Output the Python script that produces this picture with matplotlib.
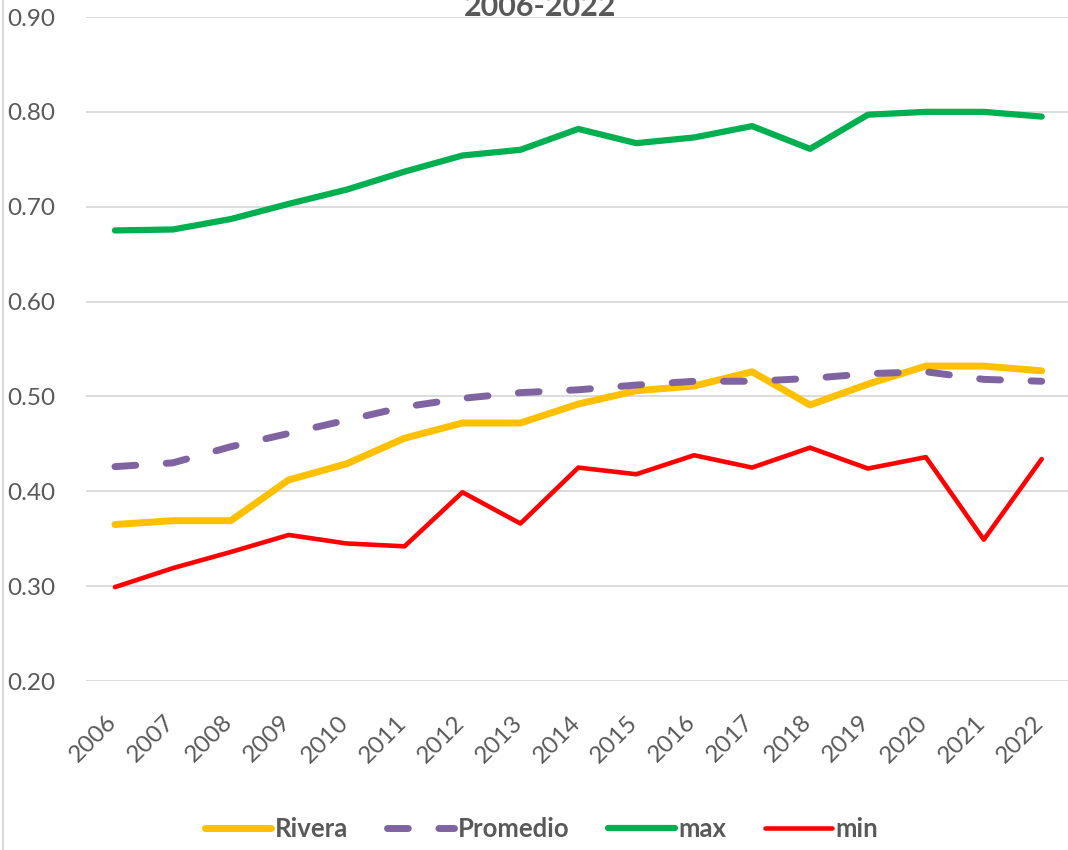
import matplotlib
matplotlib.use('Agg')
import matplotlib.pyplot as plt
from matplotlib.lines import Line2D
from matplotlib.transforms import ScaledTranslation

years = [str(y) for y in range(2006, 2023)]
rivera = [0.365, 0.369, 0.369, 0.412, 0.429, 0.456, 0.472, 0.472, 0.492,
          0.506, 0.511, 0.526, 0.491, 0.513, 0.532, 0.532, 0.527]
promedio = [0.426, 0.430, 0.447, 0.461, 0.475, 0.489, 0.498, 0.504, 0.507,
            0.512, 0.516, 0.516, 0.519, 0.524, 0.526, 0.518, 0.516]
maximo = [0.675, 0.676, 0.687, 0.703, 0.718, 0.737, 0.754, 0.760, 0.782,
          0.767, 0.773, 0.785, 0.761, 0.797, 0.800, 0.800, 0.795]
minimo = [0.299, 0.319, 0.336, 0.354, 0.345, 0.342, 0.399, 0.366, 0.425,
          0.418, 0.438, 0.425, 0.446, 0.424, 0.436, 0.349, 0.434]
yticks = [0.20, 0.30, 0.40, 0.50, 0.60, 0.70, 0.80, 0.90]

plt.rcParams['font.family'] = ['Lato', 'DejaVu Sans']
gray = '#595959'

fig = plt.figure(figsize=(10.68, 8.5), dpi=100)
ax = fig.add_axes([0.0805, 0.1988, 0.922, 0.7812])

x = list(range(len(years)))
ax.plot(x, rivera, color='#FFC000', lw=5, solid_capstyle='round', label='Rivera')
ax.plot(x, promedio, color='#8064A2', lw=5, dashes=(3.0, 4.4),
        dash_capstyle='round', label='Promedio')
ax.plot(x, maximo, color='#00B050', lw=4.5, solid_capstyle='round', label='max')
ax.plot(x, minimo, color='#FF0000', lw=3.3, solid_capstyle='round', label='min')

ax.set_xlim(-0.5, len(years) - 0.5)
ax.set_ylim(0.20, 0.90)
ax.set_yticks(yticks)
ax.set_yticklabels(['%.2f' % v for v in yticks])
ax.set_xticks(x)
ax.set_xticklabels(years, rotation=45, ha='right', rotation_mode='anchor')
ax.tick_params(axis='both', length=0, labelcolor=gray, labelsize=17.5)
ax.tick_params(axis='x', pad=22)
ax.tick_params(axis='y', pad=57)
for lab in ax.get_yticklabels():
    lab.set_horizontalalignment('left')
shift = ScaledTranslation(-9/100, 0, fig.dpi_scale_trans)
for lab in ax.get_xticklabels():
    lab.set_transform(lab.get_transform() + shift)
ax.grid(axis='y', color='#D9D9D9', lw=1.3)
ax.set_axisbelow(True)
for s in ax.spines.values():
    s.set_visible(False)

fig.text(0.506, 0.981, '2006-2022', ha='center', va='baseline',
         fontsize=22, fontweight='bold', color=gray)

fig.add_artist(Line2D([3/1068, 3/1068], [0, 1], color='#D9D9D9', lw=1.5,
                      transform=fig.transFigure))

leg = fig.legend(loc='center', bbox_to_anchor=(0.507, 0.025), ncol=4,
                 frameon=False, handlelength=2.6, handletextpad=0.15,
                 columnspacing=1.5, prop={'size': 18.5, 'weight': 'bold'})
for t in leg.get_texts():
    t.set_color(gray)
for h in leg.get_lines():
    h.set_solid_capstyle('round')
    h.set_dash_capstyle('round')

fig.savefig('out.png', dpi=100, facecolor='white')
